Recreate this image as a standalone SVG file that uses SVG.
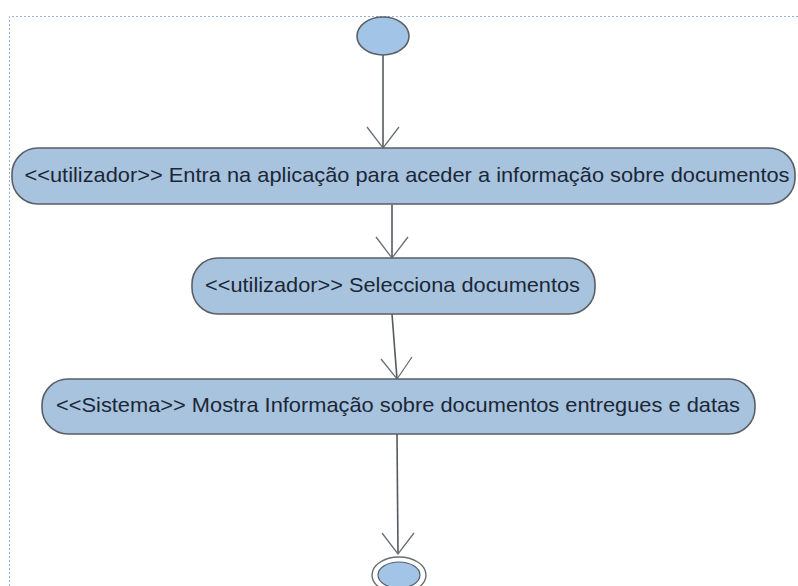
<svg xmlns="http://www.w3.org/2000/svg" width="798" height="586" viewBox="0 0 798 586">
  <style>
    .frame { fill: none; stroke: #8fb4e3; stroke-width: 1; stroke-dasharray: 2 2; }
    .action { fill: #a8c3de; stroke: #5a5f66; stroke-width: 1.6; }
    .label { font-family: "Liberation Sans", "Noto Sans", Arial, sans-serif; font-size: 21px; fill: #1b2736; text-anchor: middle; }
    .flow { fill: none; stroke: #555a60; stroke-width: 1.6; }
    .head { fill: none; stroke: #6a6f75; stroke-width: 1.3; }
    .start { fill: #a2c4e6; stroke: #5a5f66; stroke-width: 1.6; }
    .final-ring { fill: #ffffff; stroke: #6a6f75; stroke-width: 1.4; }
    .final-dot { fill: #a2c4e6; stroke: #5a5f66; stroke-width: 1.2; }
  </style>

  <rect width="798" height="586" fill="#ffffff"/>
  <!-- diagram frame -->
  <path class="frame" d="M9.5 586 V16.5 H798"/>

  <!-- control flows -->
  <g id="connectors">
    <line class="flow" x1="383" y1="55" x2="383" y2="148"/>
    <polyline class="head" points="367,127 383,148 399,127"/>

    <line class="flow" x1="392" y1="205" x2="392" y2="258"/>
    <polyline class="head" points="376,237 392,258 408,237"/>

    <line class="flow" x1="392" y1="314" x2="397" y2="379"/>
    <polyline class="head" points="381,359 397,379 412,357"/>

    <line class="flow" x1="397" y1="434" x2="398" y2="554"/>
    <polyline class="head" points="382,533 398,554 414,533"/>
  </g>

  <g id="start">
    <ellipse class="start" cx="383" cy="36" rx="26" ry="19"/>
  </g>

  <g id="entra-aplicacao">
    <rect class="action" x="12" y="148" width="783" height="56" rx="26" ry="26"/>
    <text class="label" x="407" y="182" textLength="765" lengthAdjust="spacingAndGlyphs">&lt;&lt;utilizador&gt;&gt; Entra na aplicação para aceder a informação sobre documentos</text>
  </g>

  <g id="selecciona-documentos">
    <rect class="action" x="192" y="258" width="403" height="56" rx="26" ry="26"/>
    <text class="label" x="392.5" y="292" textLength="375" lengthAdjust="spacingAndGlyphs">&lt;&lt;utilizador&gt;&gt; Selecciona documentos</text>
  </g>

  <g id="mostra-informacao">
    <rect class="action" x="42" y="379" width="713" height="55" rx="26" ry="26"/>
    <text class="label" x="398" y="412" textLength="684" lengthAdjust="spacingAndGlyphs">&lt;&lt;Sistema&gt;&gt; Mostra Informação sobre documentos entregues e datas</text>
  </g>

  <g id="final">
    <ellipse class="final-ring" cx="399" cy="575" rx="27" ry="18"/>
    <ellipse class="final-dot" cx="399" cy="575" rx="21" ry="13"/>
  </g>
</svg>
